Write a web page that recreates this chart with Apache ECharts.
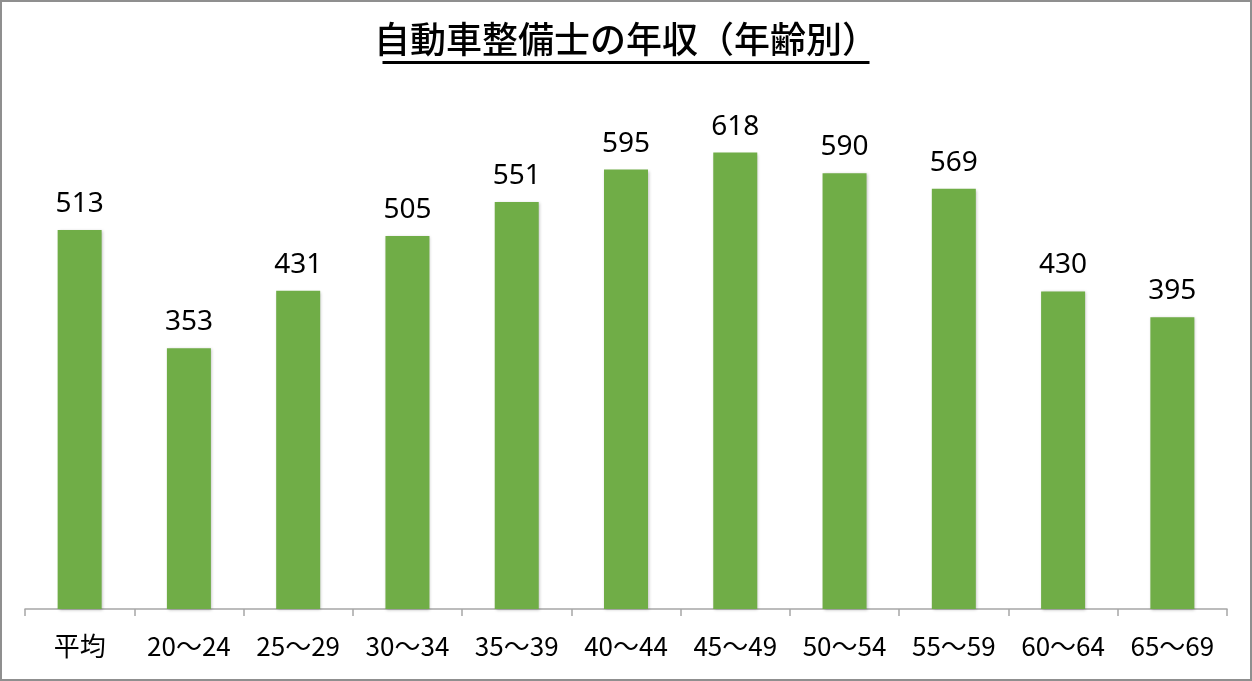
<!DOCTYPE html>
<html><head><meta charset="utf-8">
<script src="https://cdn.jsdelivr.net/npm/echarts@6/dist/echarts.min.js"></script>
<style>
html,body{margin:0;padding:0;background:#fff;}
#c{width:1252px;height:681px;box-sizing:border-box;border:2px solid #8f8f8f;}
</style></head>
<body><div id="c"></div>
<script>
const titleText = '自動車整備士の年収（年齢別）';
const categories = ['平均','20〜24','25〜29','30〜34','35〜39','40〜44','45〜49','50〜54','55〜59','60〜64','65〜69'];
const values = [513,353,431,505,551,595,618,590,569,430,395];

const chart = echarts.init(document.getElementById('c'));
const font = '"Noto Sans CJK JP","Noto Sans",sans-serif';
chart.setOption({
  animation:false,
  title:{text:titleText,left:'center',top:14,textStyle:{fontSize:36,fontWeight:500,color:'#000',fontFamily:font}},
  graphic:[{type:'rect',left:'center',top:59,shape:{width:487,height:3},style:{fill:'#000'}}],
  grid:{left:23,right:23,top:90,bottom:70},
  xAxis:{type:'category',data:categories,
    axisLine:{lineStyle:{color:'#a6a6a6',width:1.5}},
    axisTick:{show:true,length:7,lineStyle:{color:'#a6a6a6',width:1.5}},
    axisLabel:{fontSize:26,color:'#000',margin:24,fontFamily:font,interval:0}},
  yAxis:{type:'value',min:0,max:700,show:false,splitLine:{show:false}},
  series:[{type:'bar',data:values,barWidth:44,
    itemStyle:{color:'#70AD47',shadowBlur:3,shadowColor:'rgba(0,0,0,0.25)',shadowOffsetX:1,shadowOffsetY:1},
    label:{show:true,position:'top',distance:12,fontSize:28,color:'#000',fontFamily:'"Noto Sans",sans-serif'}}]
});
</script></body></html>
